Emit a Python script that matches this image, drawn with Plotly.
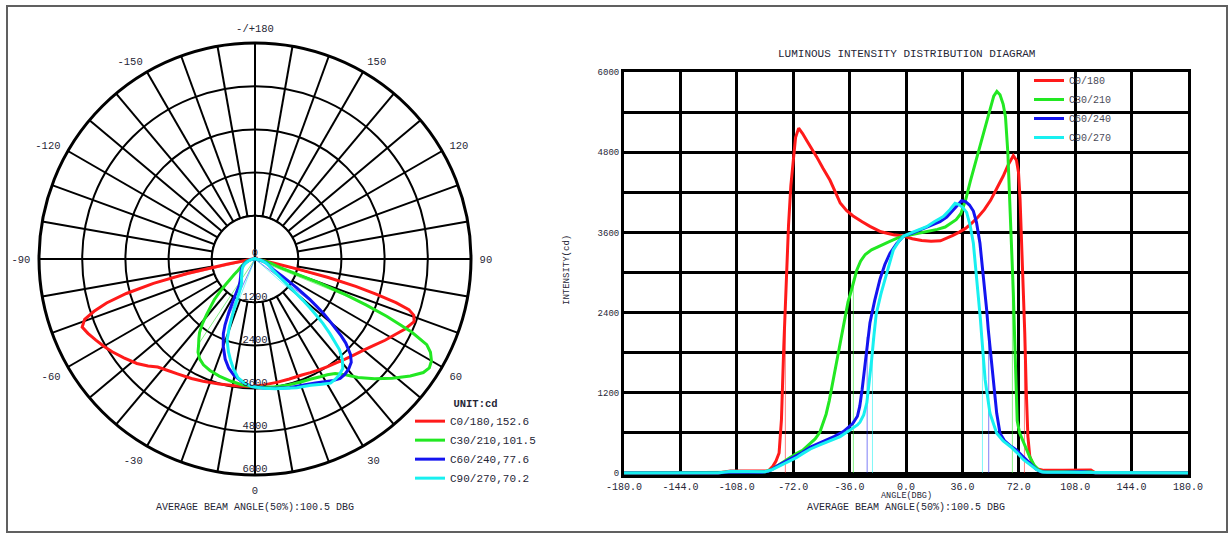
import plotly.graph_objects as go
import numpy as np

# ---------------- data (intensity in cd vs gamma angle in deg) ----------------
planes = ["C0/180", "C30/210", "C60/240", "C90/270"]
colors = ["#ff1a1a", "#22e822", "#1414f0", "#18f0f0"]

c0_angle = [-180, -120, -112, -100, -92, -88, -85, -83, -81, -79.5, -78, -76.5, -75, -73.5, -72, -70.5,
            -68.5, -66, -63, -60, -57, -53, -48.5, -45, -42, -38, -34, -28, -23, -16, -8, -1.5, 4, 10,
            16, 22, 26, 30, 34, 38, 42, 46, 50, 54, 58, 62, 65, 68.5, 70.5, 71.8, 72.8, 73.8, 74.8,
            75.8, 76.8, 77.8, 79, 81, 84, 88, 100, 110, 118, 121, 180]
c0_cd = [0, 0, 30, 30, 20, 30, 100, 180, 300, 800, 1900, 2900, 3700, 4300, 4700, 5020,
         5160, 5080, 4960, 4850, 4730, 4560, 4380, 4200, 4040, 3930, 3850, 3760, 3690, 3610, 3565, 3545, 3505, 3480,
         3468, 3475, 3510, 3555, 3605, 3660, 3740, 3830, 3940, 4080, 4260, 4440, 4600, 4750, 4680, 4500, 4100, 3500, 2900,
         2100, 1200, 550, 250, 120, 60, 40, 40, 45, 45, 0, 0]

c30_angle = [-180, -120, -105, -95, -90, -86, -82, -78, -74, -70, -66, -62, -58, -55, -53, -51, -49, -47, -45,
             -43, -41, -39, -37, -35, -33, -31.5, -29, -26, -22, -17, -11, -6, -1.5, 4, 9, 15, 20, 25, 29, 32,
             35, 38, 41, 45, 49, 53, 56, 58, 60, 62, 63.5, 65, 66.5, 67.5, 68.5, 69.5, 70.3, 71, 72.5, 75, 77,
             79, 82, 85, 88, 100, 112, 118, 121, 180]
c30_cd = [0, 0, 10, 15, 20, 50, 110, 180, 240, 290, 340, 420, 510, 610, 740, 880, 1080, 1330, 1600,
          1800, 2050, 2330, 2560, 2720, 2880, 3030, 3170, 3270, 3340, 3400, 3460, 3510, 3545, 3570, 3590, 3620, 3645, 3680, 3740, 3790,
          3880, 4080, 4360, 4700, 5050, 5400, 5640, 5710, 5660, 5520, 5330, 4800, 4000, 3350, 2700, 1900, 1200, 780, 600, 450, 330,
          240, 110, 40, 15, 15, 25, 20, 0, 0]

c60_angle = [-180, -120, -112, -100, -92, -88, -85, -82, -78, -74, -70, -66, -61, -55, -50, -46, -40, -34, -31,
             -29.5, -28, -26.2, -24.5, -23, -20, -16.6, -13.5, -10.2, -6, -1.5, 4, 9, 15, 21.7, 26, 30.2, 33, 35.5,
             38, 40.5, 43, 45, 47.2, 48.3, 49.3, 50.5, 51.5, 52.5, 53.6, 55.5, 57.9, 60, 63, 67, 70.6, 74, 79, 83,
             86, 90, 100, 112, 118, 121, 180]
c60_cd = [0, 0, 15, 15, 10, 25, 60, 110, 160, 200, 260, 310, 390, 450, 500, 545, 620, 740, 850,
          1000, 1250, 1640, 2000, 2250, 2580, 2900, 3120, 3290, 3430, 3545, 3590, 3636, 3700, 3761, 3830, 3935, 4020, 4075,
          4060, 4010, 3920, 3750, 3437, 3200, 2938, 2650, 2440, 2150, 1890, 1400, 893, 594, 480, 400, 344, 260, 144, 60,
          20, 10, 10, 20, 10, 0, 0]

c90_angle = [-180, -120, -112, -100, -90, -86, -82, -78, -74, -70, -66, -61, -55, -50, -42, -36, -31, -29.4, -27,
             -25, -23.5, -21.9, -20.5, -19, -16, -13.5, -11, -8.1, -4.5, -1.5, 4, 9, 13.2, 18, 23.8, 28, 31.3, 33.5,
             36, 38.7, 41, 43, 45.1, 46.5, 47.5, 48.3, 49.3, 50.5, 53.6, 57.9, 62, 67, 70.6, 75, 80, 83.4, 87, 90,
             100, 120, 121, 180]
c90_cd = [0, 0, 25, 25, 20, 45, 90, 140, 175, 230, 290, 360, 420, 470, 545, 640, 720, 760, 870,
          1050, 1350, 1700, 2050, 2380, 2680, 2900, 3120, 3337, 3470, 3545, 3600, 3650, 3686, 3760, 3836, 3940, 4035, 4020,
          3980, 3900, 3700, 3437, 2938, 2600, 2300, 2050, 1750, 1400, 893, 594, 480, 390, 310, 200, 110, 50, 15, 10,
          10, 10, 0, 0]

# 50% beam edges (deg) for each plane
beam_lo = [-77.0, -33.6, -24.8, -21.4]
beam_hi = [75.6, 67.9, 52.8, 48.8]

# axis tick definitions
x_tick_vals = [-180, -144, -108, -72, -36, 0, 36, 72, 108, 144, 180]
x_tick_labels = ["-180.0", "-144.0", "-108.0", "-72.0", "-36.0", "0.0", "36.0", "72.0", "108.0", "144.0", "180.0"]
y_grid_vals = [0, 600, 1200, 1800, 2400, 3000, 3600, 4200, 4800, 5400, 6000]
y_tick_labels = ["0", "", "1200", "", "2400", "", "3600", "", "4800", "", "6000"]
radial_vals = [0, 1200, 2400, 3600, 4800, 6000]
radial_labels = ["0", "1200", "2400", "3600", "4800", "6000"]
polar_label_map = {0: "0", 30: "30", 60: "60", 90: "90", 120: "120", 150: "150", 180: "-/+180",
                   210: "-150", 240: "-120", 270: "-90", 300: "-60", 330: "-30"}
spoke_step = 10
inner_ring = 1200

angles = [c0_angle, c30_angle, c60_angle, c90_angle]
values = [c0_cd, c30_cd, c60_cd, c90_cd]
beams = [round(h - l, 1) for l, h in zip(beam_lo, beam_hi)]
avg_beam = sum(beams) / len(beams)

# ---------------- figure ----------------
W, H = 1229, 533
FONT = "Liberation Mono"
TXT = "#262636"

fig = go.Figure()

# --- polar: inner white disk with cross ---
ring_theta = np.arange(0, 361, 2)
fig.add_trace(go.Scatterpolar(r=[inner_ring] * len(ring_theta), theta=ring_theta, mode="lines",
                              fill="toself", fillcolor="white", line=dict(color="black", width=2),
                              showlegend=False, hoverinfo="skip", subplot="polar"))
fig.add_trace(go.Scatterpolar(r=[inner_ring, 0, inner_ring, None, inner_ring, 0, inner_ring],
                              theta=[0, 0, 180, None, 90, 90, 270], mode="lines",
                              line=dict(color="black", width=2), showlegend=False, hoverinfo="skip",
                              subplot="polar"))

# --- polar half-max lines ---
for col, lo, hi, cd in zip(colors, beam_lo, beam_hi, values):
    hm = max(cd) / 2
    fig.add_trace(go.Scatterpolar(r=[0, hm, None, 0, hm], theta=[lo, lo, None, hi, hi], mode="lines",
                                  line=dict(color=col, width=1), opacity=0.55, showlegend=False,
                                  hoverinfo="skip", subplot="polar"))

# --- polar curves ---
for name, col, ang, cd, b in zip(planes, colors, angles, values, beams):
    fig.add_trace(go.Scatterpolar(r=cd, theta=ang, mode="lines", line=dict(color=col, width=3),
                                  name=f"{name},{b:.1f}", legend="legend2", subplot="polar",
                                  hoverinfo="skip"))

# --- polar radial labels ---
fig.add_trace(go.Scatterpolar(r=radial_vals, theta=[0] * len(radial_vals), mode="text",
                              text=radial_labels, textposition="top center",
                              textfont=dict(family=FONT, size=10.5, color=TXT),
                              cliponaxis=False, showlegend=False, hoverinfo="skip", subplot="polar"))

# --- cartesian half-max lines ---
for col, lo, hi, cd in zip(colors, beam_lo, beam_hi, values):
    hm = max(cd) / 2
    fig.add_trace(go.Scatter(x=[lo, lo, None, hi, hi], y=[0, hm, None, 0, hm], mode="lines",
                             line=dict(color=col, width=1), opacity=0.55, showlegend=False,
                             hoverinfo="skip", xaxis="x", yaxis="y"))

# --- cartesian curves ---
for name, col, ang, cd in zip(planes, colors, angles, values):
    fig.add_trace(go.Scatter(x=ang, y=cd, mode="lines", line=dict(color=col, width=3), name=name,
                             legend="legend", xaxis="x", yaxis="y", hoverinfo="skip"))

spoke_vals = list(range(0, 360, spoke_step))
spoke_text = [polar_label_map.get(v, "") for v in spoke_vals]

# polar geometry (px)
pcx, pcy, pr = 255, 259, 216
# cartesian plot area (px)
cx0, cx1, cy0, cy1 = 624, 1188, 72, 474.7

fig.update_layout(
    width=W, height=H, margin=dict(l=0, r=0, t=0, b=0, pad=0, autoexpand=False), autosize=False,
    paper_bgcolor="white", plot_bgcolor="white",
    font=dict(family=FONT, color=TXT),
    polar=dict(
        domain=dict(x=[(pcx - pr) / W, (pcx + pr) / W], y=[(H - pcy - pr) / H, (H - pcy + pr) / H]),
        bgcolor="white",
        angularaxis=dict(rotation=-90, direction="counterclockwise", tickmode="array",
                         tickvals=spoke_vals, ticktext=spoke_text, ticks="outside", ticklen=5,
                         tickcolor="rgba(0,0,0,0)",
                         showgrid=True, gridcolor="black", gridwidth=2,
                         showline=True, linecolor="black", linewidth=3,
                         tickfont=dict(family=FONT, size=10.5, color=TXT)),
        radialaxis=dict(range=[0, 6000], tickmode="array", tickvals=radial_vals[1:-1],
                        showticklabels=False, ticks="", showgrid=True, gridcolor="black",
                        gridwidth=2, showline=False),
    ),
    xaxis=dict(domain=[cx0 / W, cx1 / W], range=[-180, 180], tickmode="array",
               tickvals=x_tick_vals, ticktext=x_tick_labels, showgrid=True, gridcolor="black",
               gridwidth=3, showline=True, linecolor="black", linewidth=3, mirror=True,
               zeroline=False, ticks="", automargin=False,
               tickfont=dict(family=FONT, size=10, color=TXT), anchor="y"),
    yaxis=dict(domain=[(H - cy1) / H, (H - cy0) / H], range=[-25, 6000], tickmode="array",
               tickvals=y_grid_vals, ticktext=y_tick_labels, showgrid=True, gridcolor="black",
               gridwidth=3, showline=True, linecolor="black", linewidth=3, mirror=True,
               zeroline=False, ticks="", automargin=False,
               tickfont=dict(family=FONT, size=9, color=TXT), anchor="x"),
    legend=dict(x=1029 / W, y=(H - 66) / H, xanchor="left", yanchor="top",
                bgcolor="rgba(0,0,0,0)", font=dict(family=FONT, size=10, color="#4a4a58"),
                itemwidth=30, tracegroupgap=0),
    legend2=dict(x=410 / W, y=(H - 393) / H, xanchor="left", yanchor="top",
                 bgcolor="rgba(0,0,0,0)", font=dict(family=FONT, size=11, color=TXT),
                 title=dict(text="<b>UNIT:cd</b>", side="top center",
                            font=dict(family=FONT, size=10.5, color=TXT)),
                 itemwidth=30, tracegroupgap=0),
    showlegend=True,
)

avg_text = f"AVERAGE BEAM ANGLE(50%):{avg_beam:.1f} DBG"
ann = dict(xref="paper", yref="paper", showarrow=False, xanchor="center", yanchor="middle")
fig.add_annotation(x=(cx0 + cx1) / 2 / W, y=(H - 54) / H, text="LUMINOUS INTENSITY DISTRIBUTION DIAGRAM",
                   font=dict(family=FONT, size=11, color=TXT), **ann)
fig.add_annotation(x=(cx0 + cx1) / 2 / W, y=(H - 495.5) / H, text="ANGLE(DBG)",
                   font=dict(family=FONT, size=8.5, color=TXT), **ann)
fig.add_annotation(x=(cx0 + cx1) / 2 / W, y=(H - 507) / H, text=avg_text,
                   font=dict(family=FONT, size=10, color=TXT), **ann)
fig.add_annotation(x=pcx / W, y=(H - 507) / H, text=avg_text,
                   font=dict(family=FONT, size=10, color=TXT), **ann)
fig.add_annotation(x=567 / W, y=(H - 270) / H, textangle=-90, text="INTENSITY(cd)",
                   font=dict(family=FONT, size=9, color=TXT), **ann)
# outer frame of the picture
fig.add_shape(type="rect", xref="paper", yref="paper", x0=7 / W, x1=1227 / W, y0=1 / H, y1=(H - 6) / H,
              line=dict(color="#606060", width=2), fillcolor="rgba(0,0,0,0)", layer="below")

fig.write_html("out.html", config={"displayModeBar": False, "responsive": False},
               post_script="document.body.style.margin='0';document.body.style.overflow='hidden';")
